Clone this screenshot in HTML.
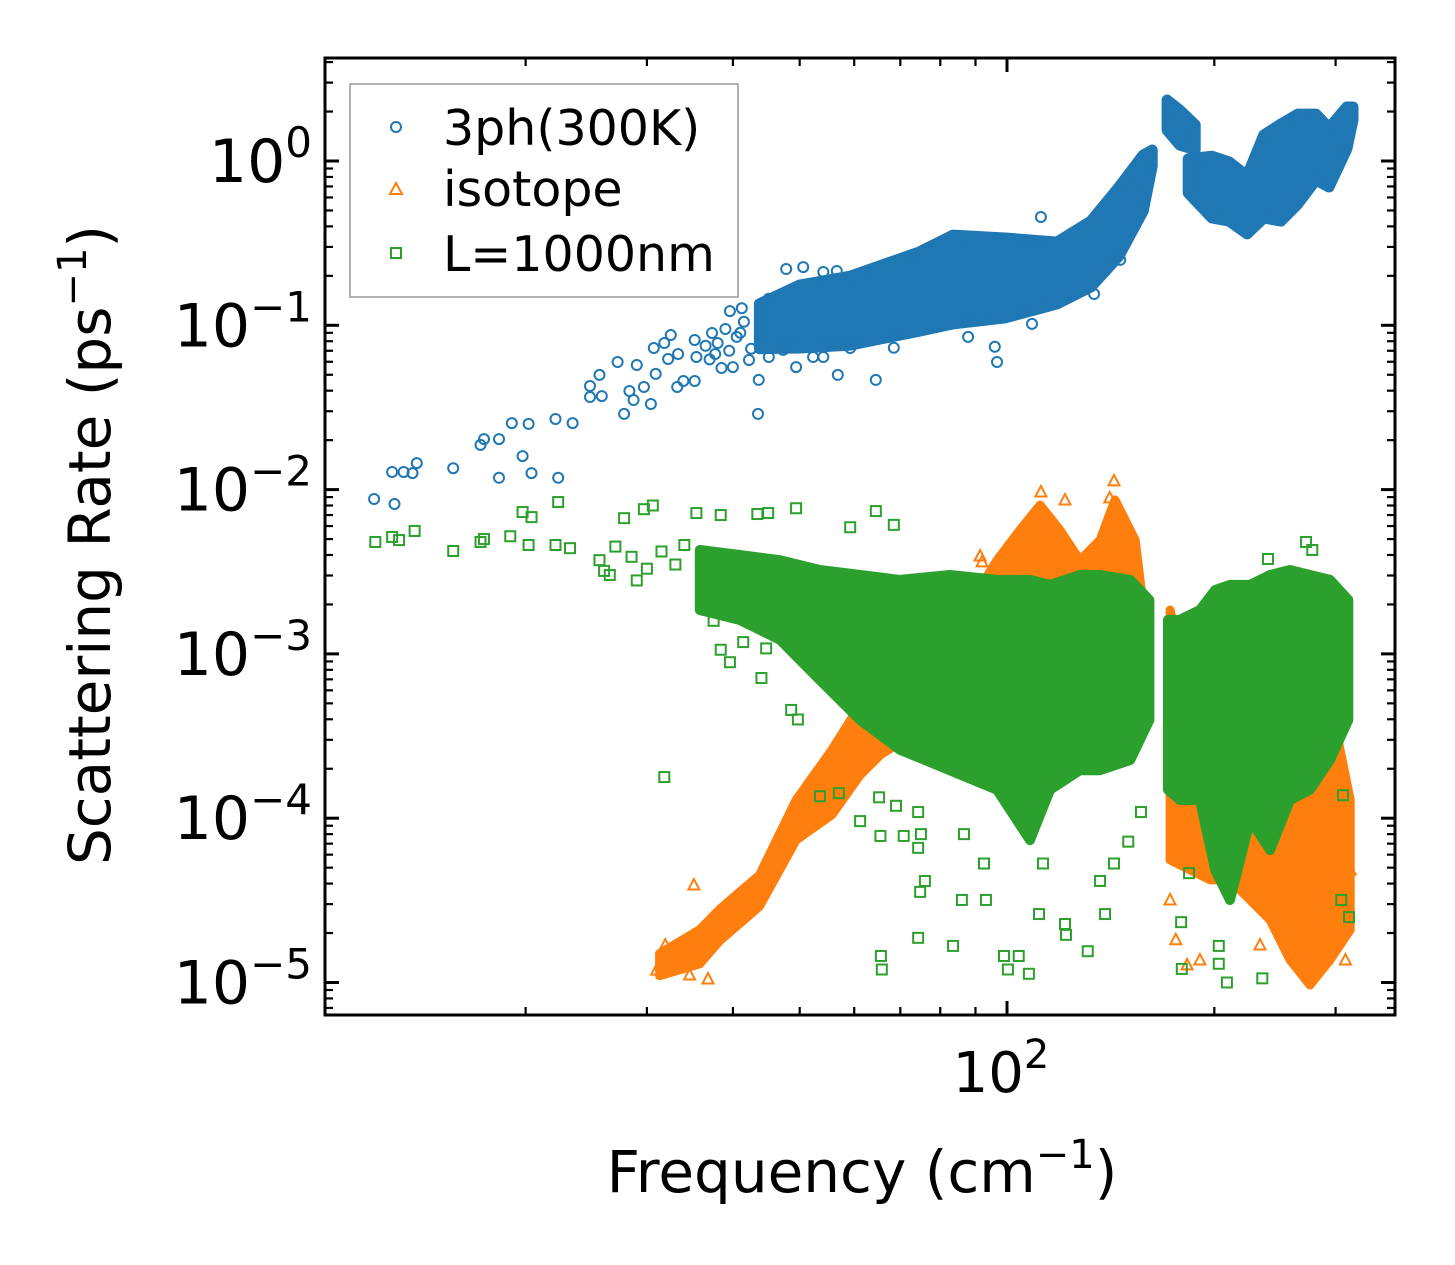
<!DOCTYPE html>
<html><head><meta charset="utf-8"><title>Scattering Rate vs Frequency</title>
<style>
html,body{margin:0;padding:0;background:#fff;}
svg{display:block;font-family:"DejaVu Sans","Liberation Sans",sans-serif;}
</style></head>
<body>
<svg id="chart" width="1455" height="1265" viewBox="0 0 1455 1265" xmlns="http://www.w3.org/2000/svg">
<rect x="0" y="0" width="1455" height="1265" fill="#fff"/>
<g id="marks"></g>
<g id="axes"></g>
<g>
<rect x="350" y="84" width="388" height="213" fill="#fff" fill-opacity="0.9" stroke="#999" stroke-width="1.5"/>
<circle cx="396" cy="127" r="5" fill="none" stroke="#1f77b4" stroke-width="2"/>
<text x="443" y="145" font-size="49" fill="#000">3ph(300K)</text>
<polygon points="396,183 402,194 390,194" fill="none" stroke="#ff7f0e" stroke-width="2"/>
<text x="443" y="206" font-size="49" fill="#000">isotope</text>
<rect x="391" y="248" width="10" height="10" fill="none" stroke="#2ca02c" stroke-width="2"/>
<text x="443" y="271" font-size="49" fill="#000">L=1000nm</text>
</g>
<text x="862" y="1192" font-size="58" text-anchor="middle" fill="#000">Frequency (cm<tspan dy="-24" font-size="40">−1</tspan><tspan dy="24">)</tspan></text>
<text transform="translate(110,545) rotate(-90)" x="0" y="0" font-size="58" text-anchor="middle" fill="#000">Scattering Rate (ps<tspan dy="-24" font-size="40">−1</tspan><tspan dy="24">)</tspan></text>
</svg>
<script>
// ---- data (frequency in cm^-1, rate in ps^-1) ----
const blueF=[12.05,12.9,12.8,13.3,13.7,13.9,15.7,17.2,17.4,18.3,19.1,20.2,18.3,19.8,20.4,22.3,22.1,23.4,24.8,24.8,25.8,25.6,27.2,27.8,28.3,28.7,29.0,30.4,30.9,29.7,30.7,31.8,32.5,32.2,33.3,33.2,33.9,35.2,35.4,35.2,37.3,37.7,38.5,39.6,41.2,40,42.2,43.6,43.5,45.1,45.1,47.3,49.4,47.8,50.6,54.1,56.6,56.8,52.3,54.1,59.2,64.5,96.7,96,87.8,68.5,108.7,133.8,112,146,38,39,40.5,41.5,42.5,39.5,41,36.5,37];
const blueR=[0.00877,0.00817,0.0128,0.0128,0.0126,0.0145,0.0135,0.0187,0.0203,0.0203,0.0254,0.0251,0.0118,0.016,0.0126,0.0118,0.0269,0.0254,0.0427,0.0366,0.0371,0.0499,0.0598,0.0289,0.0398,0.0351,0.0573,0.0332,0.0506,0.0421,0.0728,0.078,0.0873,0.0624,0.0669,0.0421,0.0458,0.0814,0.0641,0.0458,0.0898,0.0669,0.055,0.122,0.127,0.0557,0.0615,0.0465,0.0289,0.0641,0.145,0.0708,0.0557,0.22,0.226,0.211,0.214,0.0499,0.0641,0.0641,0.0728,0.0465,0.0598,0.074,0.085,0.073,0.102,0.155,0.456,0.25,0.078,0.095,0.085,0.105,0.072,0.07,0.09,0.075,0.062];
const blueBand1F=[43.7,50,59.2,74.5,83.5,99.3,118.2,132.4,145.4,157.7,162.5];
const blueBand1Hi=[0.135,0.176,0.199,0.279,0.354,0.340,0.321,0.431,0.695,1.088,1.166];
const blueBand1Lo=[0.072,0.0728,0.0758,0.092,0.102,0.111,0.135,0.171,0.264,0.496,0.932];
const blueBand2F=[170.8,178.2,187.6];
const blueBand2Hi=[2.35,2.04,1.66];
const blueBand2Lo=[1.54,1.25,1.17];
const blueBand3F=[183.3,198.4,210.2,223.2,236,249.9,264.5,281,293.5,311.5,318];
const blueBand3Hi=[1.03,1.07,0.986,0.81,1.44,1.68,1.93,1.93,1.59,2.13,2.13];
const blueBand3Lo=[0.639,0.45,0.431,0.36,0.45,0.431,0.547,0.766,0.695,1.18,1.78];

const orangeF=[112,143,91.4,121.4,141,35.1,31.0,31.9,32.6,34.6,36.8,33.5,172.5,175.8,182.6,190.6,233,266,285,310,312,315,294,92,101.4];
const orangeR=[9.67e-3,0.0113,3.94e-3,8.65e-3,8.9e-3,3.92e-5,1.19e-5,1.69e-5,1.37e-5,1.11e-5,1.05e-5,1.37e-5,3.18e-5,1.82e-5,1.28e-5,1.37e-5,1.69e-5,1.5e-5,1.28e-5,1.37e-5,3.18e-5,4.84e-5,4.21e-5,3.63e-3,4.2e-3];
const orangeBand1F=[31.3,35.8,38.3,43.7,49.4,55.7,61.2,65.5,74.8,85.5,92.9,96.7,104.4,111.7,119.4,127.6,136.5,143.5,153.5,158.6];
const orangeBand1Hi=[1.5e-5,2.1e-5,2.8e-5,4.5e-5,1.29e-4,2.61e-4,4.89e-4,6.93e-4,1.06e-3,2.13e-3,2.82e-3,3.72e-3,5.67e-3,8.05e-3,5.67e-3,3.72e-3,4.93e-3,8.65e-3,4.93e-3,1.61e-3];
const orangeBand1Lo=[1.1e-5,1.3e-5,1.8e-5,2.9e-5,7.36e-5,1.05e-4,1.83e-4,2.43e-4,3.44e-4,2.99e-4,2.99e-4,3.44e-4,3.96e-4,3.96e-4,3.96e-4,5.25e-4,5.25e-4,6.03e-4,5.25e-4,5.25e-4];
const orangeBand2F=[172.5,184.5,197.2,210.8,225.4,241,257.6,275.4,294.4,315];
const orangeBand2Hi=[1.85e-3,5.25e-4,5.25e-4,5.25e-4,5.25e-4,5.25e-4,5.25e-4,5.25e-4,5.25e-4,1.29e-4];
const orangeBand2Lo=[5.57e-5,4.84e-5,4.21e-5,4.21e-5,3.18e-5,2.40e-5,1.37e-5,9.66e-6,1.37e-5,2.09e-5];

const greenF=[12.1,12.8,13.1,13.8,15.7,17.2,17.4,19.0,20.2,19.8,20.4,22.3,22.1,23.2,25.6,26.5,27.8,29.7,30.6,35.4,38.4,43.4,45.0,49.4,64.5,68.5,59.2,31.8,48.6,49.7,44,37.5,38.4,39.6,44.7,41.4,53.5,57.0,65.2,69.0,61.2,74.3,65.5,70.8,75.0,86.6,74.3,92.6,76.0,74.8,86.0,93.2,111.3,121.4,121.8,138.8,74.3,83.5,99.0,104,107.6,131,65.6,65.8,100.3,112.8,143,150,156.5,136.5,179,179.4,203,208.6,234.8,271.8,277.5,239.3,307.5,313.8,203,183.8,305.8,27,28.5,30,31.5,33,34,26,29];
const greenR=[4.80e-3,5.15e-3,4.93e-3,5.6e-3,4.23e-3,4.80e-3,5.0e-3,5.2e-3,4.6e-3,7.3e-3,6.8e-3,8.4e-3,4.6e-3,4.4e-3,3.72e-3,3.02e-3,6.7e-3,7.6e-3,8.0e-3,7.2e-3,7.0e-3,7.1e-3,7.2e-3,7.7e-3,7.4e-3,6.1e-3,5.9e-3,1.78e-4,4.56e-4,3.99e-4,7.13e-4,1.59e-3,1.06e-3,8.9e-4,1.08e-3,1.18e-3,1.36e-4,1.42e-4,1.34e-4,1.19e-4,9.6e-5,1.09e-4,7.8e-5,7.8e-5,8.0e-5,8.0e-5,6.6e-5,5.3e-5,4.15e-5,3.56e-5,3.18e-5,3.18e-5,2.61e-5,2.27e-5,1.95e-5,2.61e-5,1.87e-5,1.67e-5,1.45e-5,1.45e-5,1.13e-5,1.55e-5,1.45e-5,1.2e-5,1.2e-5,5.3e-5,5.3e-5,7.2e-5,1.09e-4,4.15e-5,2.33e-5,1.21e-5,1.30e-5,1.0e-5,1.06e-5,4.8e-3,4.29e-3,3.78e-3,1.38e-4,2.5e-5,1.67e-5,4.63e-5,3.18e-5,4.5e-3,3.9e-3,3.3e-3,4.2e-3,3.5e-3,4.6e-3,3.2e-3,2.8e-3];
const greenBand1F=[35.8,40.9,46.8,53.5,61.2,69.9,82.6,96.7,108,115.5,127.6,136.5,151,161];
const greenBand1Hi=[4.29e-3,4.0e-3,3.72e-3,3.24e-3,3.02e-3,2.82e-3,3.02e-3,2.82e-3,2.82e-3,2.63e-3,3.02e-3,3.02e-3,2.82e-3,2.13e-3];
const greenBand1Lo=[1.85e-3,1.61e-3,1.22e-3,6.93e-4,3.96e-4,2.61e-4,1.96e-4,1.49e-4,7.36e-5,1.49e-4,1.96e-4,1.96e-4,2.26e-4,3.96e-4];
const greenBand2F=[171.3,178.2,190.6,200.6,210.8,225.4,241,257.6,275.4,294.4,313];
const greenBand2Hi=[1.61e-3,1.61e-3,1.85e-3,2.45e-3,2.63e-3,2.63e-3,3.02e-3,3.24e-3,3.02e-3,2.82e-3,2.13e-3];
const greenBand2Lo=[1.49e-4,1.29e-4,1.29e-4,4.84e-5,3.18e-5,9.75e-5,6.4e-5,1.29e-4,1.49e-4,2.26e-4,3.96e-4];

const yTickValues=[1e-5,1e-4,1e-3,1e-2,1e-1,1];
const yTickExps=["−5","−4","−3","−2","−1","0"];
const xTickValues=[100];
const xTickExps=["2"];

// ---- axis functions ----
const X0=325,X1=1395,Y0=58,Y1=1015;
const XLMIN=1.00973, XPX=688.7, YLMAX=0.6269, YPX=164.3, YLMIN=-5.1978;
function xs(f){return X0+(Math.log10(f)-XLMIN)*XPX;}
function ys(r){return Y0+(YLMAX-Math.log10(r))*YPX;}
const NS="http://www.w3.org/2000/svg";
function mk(tag,attrs,parent){const e=document.createElementNS(NS,tag);for(const k in attrs)e.setAttribute(k,attrs[k]);parent.appendChild(e);return e;}
const marks=document.getElementById('marks');
const axes=document.getElementById('axes');
const COLORS={blue:"#1f77b4",orange:"#ff7f0e",green:"#2ca02c"};

function band(F,Hi,Lo,color,sw,name){
  let d="";
  for(let i=0;i<F.length;i++) d+=(i?"L":"M")+xs(F[i]).toFixed(1)+","+ys(Hi[i]).toFixed(1);
  for(let i=F.length-1;i>=0;i--) d+="L"+xs(F[i]).toFixed(1)+","+ys(Lo[i]).toFixed(1);
  d+="Z";
  const p=mk('path',{d:d,fill:color,stroke:color,'stroke-width':sw,'stroke-linejoin':'round'},marks);
  
  
}
function circles(F,R,name){
  for(let i=0;i<F.length;i++){
    const c=mk('circle',{cx:xs(F[i]).toFixed(1),cy:ys(R[i]).toFixed(1),r:5,fill:'none',stroke:COLORS.blue,'stroke-width':2},marks);
    
    
  }
}
function triangles(F,R,name){
  for(let i=0;i<F.length;i++){
    const x=xs(F[i]),y=ys(R[i]);
    const t=mk('polygon',{points:`${x},${y-6} ${x+5.5},${y+4.5} ${x-5.5},${y+4.5}`,fill:'none',stroke:COLORS.orange,'stroke-width':2},marks);
    
    
  }
}
function squares(F,R,name){
  for(let i=0;i<F.length;i++){
    const x=xs(F[i]),y=ys(R[i]);
    const s=mk('rect',{x:x-5,y:y-5,width:10,height:10,fill:'none',stroke:COLORS.green,'stroke-width':2},marks);
    
    
  }
}
band(blueBand1F,blueBand1Hi,blueBand1Lo,COLORS.blue,11,'3ph-dense-band-low');
band(blueBand2F,blueBand2Hi,blueBand2Lo,COLORS.blue,11,'3ph-dense-band-mid');
band(blueBand3F,blueBand3Hi,blueBand3Lo,COLORS.blue,11,'3ph-dense-band-high');
circles(blueF,blueR,'3ph-point');
band(orangeBand1F,orangeBand1Hi,orangeBand1Lo,COLORS.orange,9,'isotope-dense-band-low');
band(orangeBand2F,orangeBand2Hi,orangeBand2Lo,COLORS.orange,9,'isotope-dense-band-high');
triangles(orangeF,orangeR,'isotope-point');
band(greenBand1F,greenBand1Hi,greenBand1Lo,COLORS.green,10,'boundary-dense-band-low');
band(greenBand2F,greenBand2Hi,greenBand2Lo,COLORS.green,10,'boundary-dense-band-high');
squares(greenF,greenR,'boundary-point');

// ---- axes ----
const frame=mk('rect',{x:X0,y:Y0,width:X1-X0,height:Y1-Y0,fill:'none',stroke:'#000','stroke-width':3},axes);


for(let e=-6;e<=1;e++){
  for(let m=1;m<=9;m++){
    const v=m*Math.pow(10,e); const lg=Math.log10(v);
    if(lg<YLMIN||lg>YLMAX) continue;
    const y=ys(v); const len=(m===1)?14:8; const w=(m===1)?3:2.2;
    const t1=mk('line',{x1:X0,x2:X0+len,y1:y,y2:y,stroke:'#000','stroke-width':w},axes);
    
    
    const t2=mk('line',{x1:X1,x2:X1-len,y1:y,y2:y,stroke:'#000','stroke-width':w},axes);
    
    
  }
}
for(let i=0;i<yTickValues.length;i++){
  const y=ys(yTickValues[i]);
  const tx=mk('text',{x:312,y:y+21,'font-size':60,'text-anchor':'end',fill:'#000'},axes);
  
  
  const a=document.createElementNS(NS,'tspan'); a.textContent='10'; tx.appendChild(a);
  const b=document.createElementNS(NS,'tspan'); b.setAttribute('dy','-25'); b.setAttribute('font-size','42'); b.textContent=yTickExps[i]; tx.appendChild(b);
}
for(let e=1;e<=2;e++){
  for(let m=1;m<=9;m++){
    const v=m*Math.pow(10,e); const lg=Math.log10(v);
    if(lg<XLMIN||lg>Math.log10(365)) continue;
    const x=xs(v); const len=(m===1)?14:8; const w=(m===1)?3:2.2;
    const t1=mk('line',{x1:x,x2:x,y1:Y1,y2:Y1-len,stroke:'#000','stroke-width':w},axes);
    
    
    const t2=mk('line',{x1:x,x2:x,y1:Y0,y2:Y0+len,stroke:'#000','stroke-width':w},axes);
    
    
  }
}
for(let i=0;i<xTickValues.length;i++){
  const x=xs(xTickValues[i]);
  const tx=mk('text',{x:x-6,y:1092,'font-size':56,'text-anchor':'middle',fill:'#000'},axes);
  
  
  const a=document.createElementNS(NS,'tspan'); a.textContent='10'; tx.appendChild(a);
  const b=document.createElementNS(NS,'tspan'); b.setAttribute('dy','-24'); b.setAttribute('font-size','40'); b.textContent=xTickExps[i]; tx.appendChild(b);
}
</script>
</body></html>
